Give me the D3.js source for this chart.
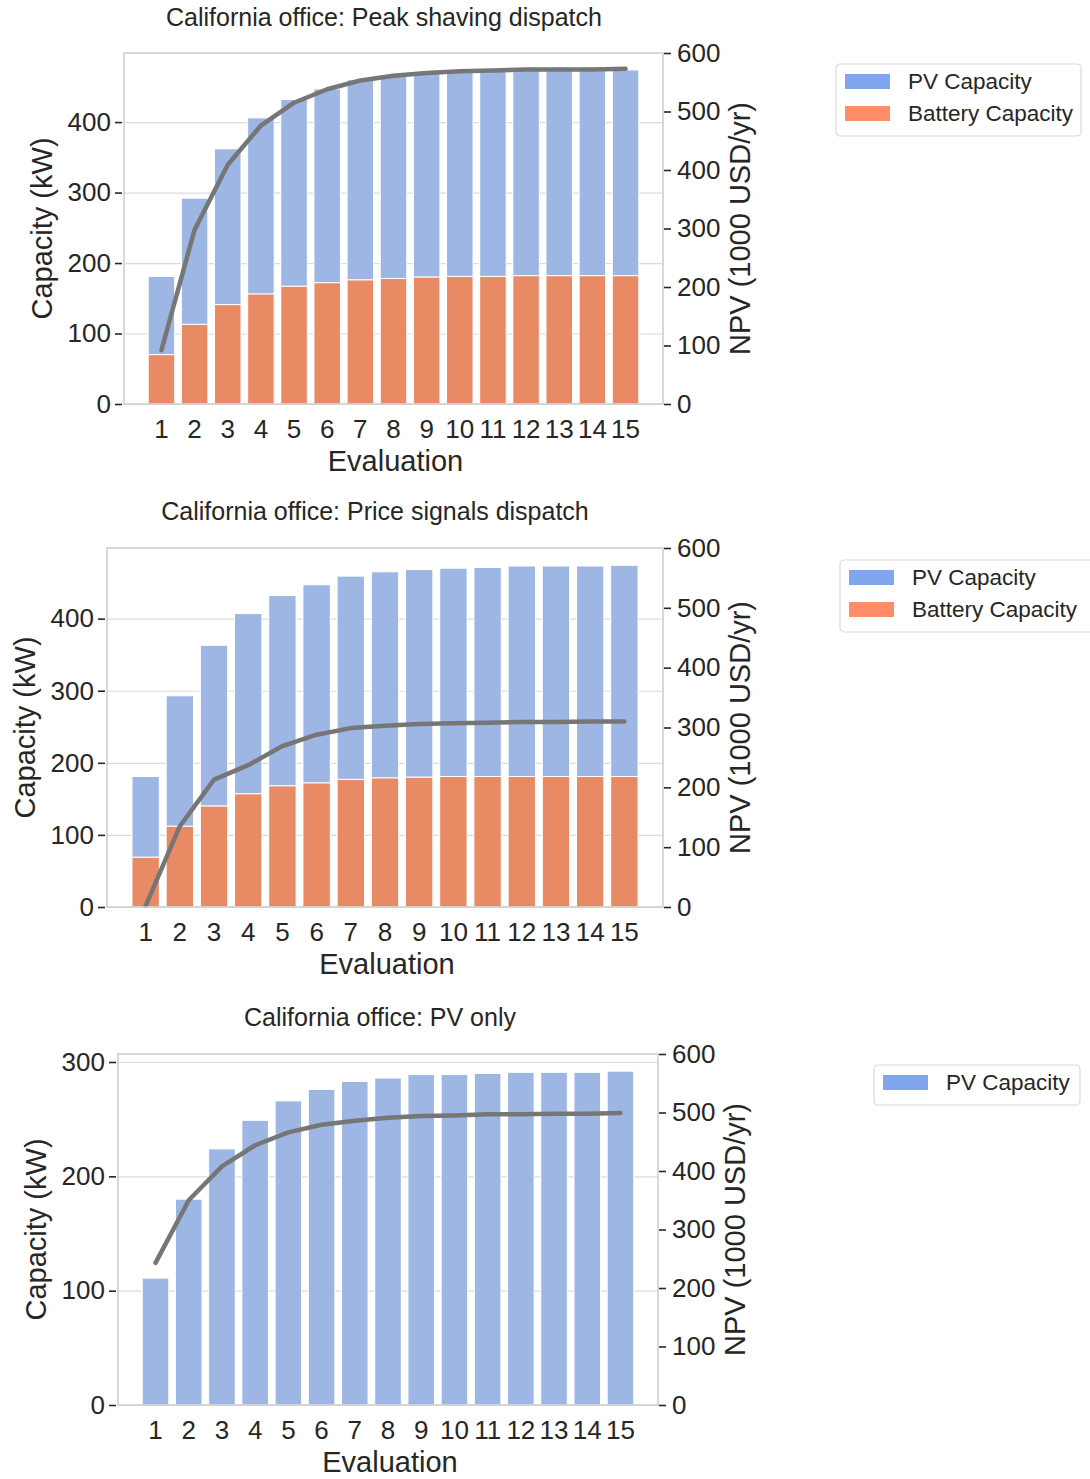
<!DOCTYPE html>
<html>
<head>
<meta charset="utf-8">
<script src="https://cdn.jsdelivr.net/npm/d3@7"></script>
<style>
  body { margin: 0; background: #fff; }
  text { font-family: "Liberation Sans", Arial, sans-serif; fill: #262626; }
</style>
</head>
<body>
<div id="chart"></div>
<script>
// evaluations on the x axis
const evaluations = ["1","2","3","4","5","6","7","8","9","10","11","12","13","14","15"];

// peak shaving dispatch
const peakBattery = [70, 113, 141, 156, 167, 172, 176, 178, 180, 181, 181, 182, 182, 182, 182];
const peakPV = [111, 179, 221, 250, 265, 275, 284, 287, 289, 290, 291, 291, 291, 291, 292];
const peakNPV = [92, 298, 409, 476, 515, 538, 553, 561, 566, 569, 570, 572, 572, 572, 573];

// price signals dispatch
const priceBattery = [69, 112, 140, 157, 168, 172, 177, 179, 180, 181, 181, 181, 181, 181, 181];
const pricePV = [112, 181, 223, 250, 264, 275, 282, 286, 288, 289, 290, 292, 292, 292, 293];
const priceNPV = [2, 135, 213, 237, 269, 288, 299, 303, 306, 307, 308, 309, 309, 310, 310];

// PV only
const pvOnlyPV = [111, 180, 224, 249, 266, 276, 283, 286, 289, 289, 290, 291, 291, 291, 292];
const pvOnlyNPV = [243, 350, 408, 444, 466, 479, 486, 491, 494, 495, 497, 497, 498, 498, 499];

// tick labels
const capTicksBig = [0, 100, 200, 300, 400];
const capTicksSmall = [0, 100, 200, 300];
const npvTicks = [0, 100, 200, 300, 400, 500, 600];

const blueBar = "#9db6e4", orangeBar = "#e88a63";
const blueKey = "#80a6ee", orangeKey = "#ff8c69";

const svg = d3.select("#chart").append("svg")
  .attr("width", 1090)
  .attr("height", 1479);

const panels = [
  { title: "California office: Peak shaving dispatch", battery: peakBattery, pv: peakPV, npv: peakNPV,
    capMax: 498, capTicks: capTicksBig,
    left: 124, right: 663, top: 53, bottom: 404, titleX: 384, titleY: 26, ylabX: 52,
    legend: { x: 836, y: 64, w: 245 } },
  { title: "California office: Price signals dispatch", battery: priceBattery, pv: pricePV, npv: priceNPV,
    capMax: 498, capTicks: capTicksBig,
    left: 107, right: 663, top: 548, bottom: 907, titleX: 375, titleY: 520, ylabX: 35,
    legend: { x: 840, y: 560, w: 260 } },
  { title: "California office: PV only", battery: null, pv: pvOnlyPV, npv: pvOnlyNPV,
    capMax: 307, capTicks: capTicksSmall,
    left: 118, right: 658, top: 1054, bottom: 1405, titleX: 380, titleY: 1026, ylabX: 46,
    legend: { x: 874, y: 1065, w: 206 } }
];

panels.forEach(drawPanel);

function drawPanel(p) {
  const g = svg.append("g");

  const x = d3.scaleBand()
    .domain(evaluations)
    .range([p.left, p.right])
    .paddingInner(0.2)
    .paddingOuter(0.73);

  const y = d3.scaleLinear().domain([0, p.capMax]).range([p.bottom, p.top]);
  const y2 = d3.scaleLinear().domain([0, 600]).range([p.bottom, p.top]);

  // grid lines from the capacity axis
  g.append("g")
    .attr("transform", `translate(${p.left},0)`)
    .call(d3.axisLeft(y).tickValues(p.capTicks).tickSize(-(p.right - p.left)).tickFormat(""))
    .call(a => a.select(".domain").remove())
    .call(a => a.selectAll("line").attr("stroke", "#dcdcdc").attr("stroke-width", 1.2));

  const rows = evaluations.map((e, i) => ({
    e: e,
    bat: p.battery ? p.battery[i] : 0,
    pv: p.pv[i],
    npv: p.npv[i]
  }));

  // PV stacked on top of battery
  g.selectAll(".pv").data(rows).enter().append("rect")
    .attr("x", d => x(d.e))
    .attr("width", x.bandwidth())
    .attr("y", d => y(d.bat + d.pv))
    .attr("height", d => y(d.bat) - y(d.bat + d.pv))
    .attr("fill", blueBar)
    .attr("stroke", "#fff")
    .attr("stroke-width", 1);

  if (p.battery) {
    g.selectAll(".bat").data(rows).enter().append("rect")
      .attr("x", d => x(d.e))
      .attr("width", x.bandwidth())
      .attr("y", d => y(d.bat))
      .attr("height", d => y(0) - y(d.bat))
      .attr("fill", orangeBar)
      .attr("stroke", "#fff")
      .attr("stroke-width", 1);
  }

  // NPV line on the right axis
  const line = d3.line()
    .x(d => x(d.e) + x.bandwidth() / 2)
    .y(d => y2(d.npv));
  g.append("path")
    .datum(rows)
    .attr("d", line)
    .attr("fill", "none")
    .attr("stroke", "#767676")
    .attr("stroke-width", 4.5)
    .attr("stroke-linejoin", "round")
    .attr("stroke-linecap", "round");

  // frame
  g.append("rect")
    .attr("x", p.left).attr("y", p.top)
    .attr("width", p.right - p.left).attr("height", p.bottom - p.top)
    .attr("fill", "none")
    .attr("stroke", "#cccccc")
    .attr("stroke-width", 1.5);

  // left axis
  const ax = g.append("g")
    .attr("transform", `translate(${p.left - 2},0)`)
    .call(d3.axisLeft(y).tickValues(p.capTicks).tickSize(7).tickPadding(4));
  ax.select(".domain").remove();
  ax.selectAll("line").attr("stroke", "#262626").attr("stroke-width", 1.6);
  ax.selectAll("text").attr("font-size", 26).attr("fill", "#262626");

  // right axis
  const ax2 = g.append("g")
    .attr("transform", `translate(${p.right + 1},0)`)
    .call(d3.axisRight(y2).tickValues(npvTicks).tickSize(7).tickPadding(6));
  ax2.select(".domain").remove();
  ax2.selectAll("line").attr("stroke", "#262626").attr("stroke-width", 1.6);
  ax2.selectAll("text").attr("font-size", 26).attr("fill", "#262626");

  // bottom axis, labels only
  const ax3 = g.append("g")
    .attr("transform", `translate(0,${p.bottom})`)
    .call(d3.axisBottom(x).tickSize(0).tickPadding(16));
  ax3.select(".domain").remove();
  ax3.selectAll("text").attr("font-size", 26).attr("fill", "#262626");

  // titles and axis labels
  g.append("text")
    .attr("x", p.titleX).attr("y", p.titleY)
    .attr("text-anchor", "middle")
    .attr("font-size", 25)
    .text(p.title);

  g.append("text")
    .attr("x", (p.left + p.right) / 2 + 2).attr("y", p.bottom + 67)
    .attr("text-anchor", "middle")
    .attr("font-size", 29)
    .text("Evaluation");

  g.append("text")
    .attr("transform", `translate(${p.ylabX},${(p.top + p.bottom) / 2}) rotate(-90)`)
    .attr("text-anchor", "middle")
    .attr("font-size", 29)
    .text("Capacity (kW)");

  g.append("text")
    .attr("transform", `translate(${p.right + 87},${(p.top + p.bottom) / 2}) rotate(-90)`)
    .attr("text-anchor", "middle")
    .attr("font-size", 29)
    .text("NPV (1000 USD/yr)");

  // legend
  const keys = p.battery
    ? [{ name: "PV Capacity", c: blueKey }, { name: "Battery Capacity", c: orangeKey }]
    : [{ name: "PV Capacity", c: blueKey }];
  const lg = g.append("g").attr("transform", `translate(${p.legend.x},${p.legend.y})`);
  lg.append("rect")
    .attr("width", p.legend.w)
    .attr("height", 8 + keys.length * 32)
    .attr("rx", 4)
    .attr("fill", "#fff")
    .attr("stroke", "#d9d9d9")
    .attr("stroke-width", 1.2);
  keys.forEach((k, i) => {
    lg.append("rect")
      .attr("x", 9).attr("y", 10 + i * 32)
      .attr("width", 45).attr("height", 15)
      .attr("fill", k.c);
    lg.append("text")
      .attr("x", 72).attr("y", 25 + i * 32)
      .attr("font-size", 22.5)
      .text(k.name);
  });
}
</script>
</body>
</html>
